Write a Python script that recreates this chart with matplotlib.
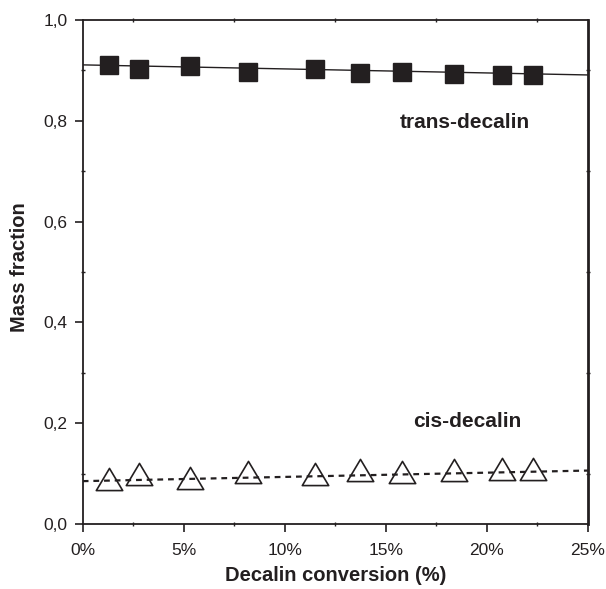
import matplotlib
matplotlib.use("Agg")
import matplotlib.pyplot as plt
from matplotlib.path import Path
from matplotlib.ticker import MultipleLocator, FuncFormatter

plt.rcParams['font.family'] = ['Liberation Sans', 'DejaVu Sans']

# data
conversion = [1.3, 2.8, 5.3, 8.2, 11.5, 13.7, 15.8, 18.35, 20.75, 22.3]
trans_frac = [0.911, 0.902, 0.909, 0.897, 0.902, 0.894, 0.896, 0.893, 0.891, 0.891]
cis_frac = [0.089, 0.099, 0.092, 0.104, 0.099, 0.107, 0.103, 0.107, 0.110, 0.110]

# fitted trend lines (end points)
fit_x = [0, 25]
trans_fit = [0.911, 0.891]
cis_fit = [0.085, 0.106]

ink = '#231f20'

fig = plt.figure(figsize=(6.06, 5.89), dpi=100)
ax = fig.add_axes([0.1365, 0.1104, 0.8338, 0.8556])

ax.plot(fit_x, trans_fit, '-', color=ink, lw=1.0, zorder=2)
ax.plot(fit_x, cis_fit, color=ink, lw=1.6, linestyle=(0, (2.6, 2.2)), zorder=2)

ax.plot(conversion, trans_frac, 's', ms=13.6, color=ink, mec=ink, zorder=3)
# wide open triangle
tri = Path([(-1, -0.84), (1, -0.84), (0, 0.84), (-1, -0.84)], closed=True)
ax.plot(conversion, cis_frac, marker=tri, ls='none', ms=19, mfc='none',
        mec=ink, mew=1.2, zorder=3)

ax.text(18.92, 0.796, 'trans-decalin', ha='center', va='center',
        fontsize=15, fontweight='bold', color=ink)
ax.text(19.04, 0.203, 'cis-decalin', ha='center', va='center',
        fontsize=15, fontweight='bold', color=ink)

ax.set_xlim(0, 25)
ax.set_ylim(0, 1.0)
ax.xaxis.set_major_locator(MultipleLocator(5))
ax.xaxis.set_minor_locator(MultipleLocator(2.5))
ax.yaxis.set_major_locator(MultipleLocator(0.2))
ax.yaxis.set_minor_locator(MultipleLocator(0.1))
ax.xaxis.set_major_formatter(FuncFormatter(lambda v, p: '%d%%' % round(v)))
ax.yaxis.set_major_formatter(FuncFormatter(lambda v, p: ('%.1f' % v).replace('.', ',')))

ax.tick_params(which='major', direction='out', length=6, width=1.2,
               labelsize=12.5, colors=ink, pad=5)
ax.tick_params(axis='x', which='major', pad=8)
ax.tick_params(which='minor', direction='inout', length=3, width=1.0, colors=ink)
ax.tick_params(axis='x', which='minor', top=True)
ax.tick_params(axis='y', which='minor', right=True)

for side in ['left', 'bottom', 'top']:
    ax.spines[side].set_linewidth(1.3)
    ax.spines[side].set_color(ink)
ax.spines['right'].set_linewidth(2.0)
ax.spines['right'].set_color(ink)

ax.set_xlabel('Decalin conversion (%)', fontsize=14.5, fontweight='bold', color=ink)
ax.set_ylabel('Mass fraction', fontsize=14.5, fontweight='bold', color=ink)
ax.xaxis.set_label_coords(0.5, -0.083)
ax.yaxis.set_label_coords(-0.106, 0.51)

fig.savefig('out.png', dpi=100)
